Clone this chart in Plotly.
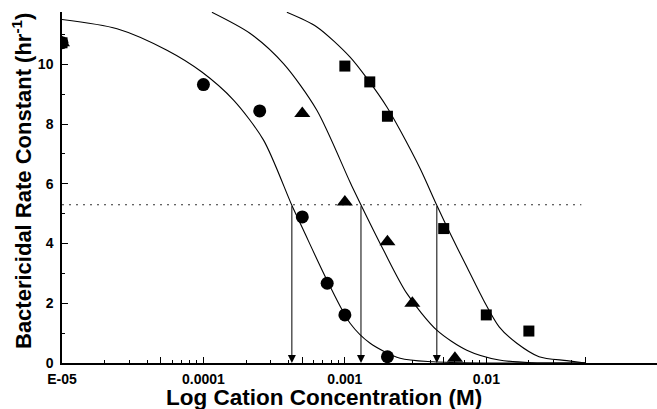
import math
import plotly.graph_objects as go

# ---- data ----
circle_conc = [1e-5, 1e-4, 2.5e-4, 5e-4, 7.5e-4, 1e-3, 2e-3]
circle_rate = [10.72, 9.32, 8.44, 4.89, 2.67, 1.61, 0.21]

triangle_conc = [1e-5, 5e-4, 1e-3, 2e-3, 3e-3, 6e-3]
triangle_rate = [10.72, 8.35, 5.39, 4.06, 2.0, 0.16]

square_conc = [1e-5, 1e-3, 1.5e-3, 2e-3, 5e-3, 1e-2, 2e-2]
square_rate = [10.72, 9.94, 9.41, 8.26, 4.50, 1.61, 1.07]

# fitted curves
curve1_conc = [1e-5, 2.45e-5, 5.52e-5, 9.75e-5, 1.633e-4, 2.661e-4, 4.217e-4, 5.09e-4,
               7.46e-4, 1.089e-3, 1.51e-3, 2.46e-3, 4.207e-3, 1e-2, 5.01e-2]
curve1_rate = [11.50, 11.19, 10.47, 9.74, 8.80, 7.46, 5.28, 4.45,
               2.78, 1.33, 0.66, 0.16, 0.04, 0.0, 0.0]

curve2_conc = [1.148e-4, 2.143e-4, 3.681e-4, 6.339e-4, 1.089e-3, 1.303e-3, 1.875e-3,
               2.742e-3, 4.467e-3, 7.278e-3, 1.233e-2, 2.109e-2, 5.01e-2]
curve2_rate = [11.74, 11.03, 10.02, 8.46, 6.05, 5.28, 3.78,
               2.33, 1.10, 0.43, 0.10, 0.01, 0.0]

curve3_conc = [3.89e-4, 6.339e-4, 1.089e-3, 1.469e-3, 1.982e-3, 2.46e-3, 3.404e-3,
               4.467e-3, 5.546e-3, 7.278e-3, 9.55e-3, 1.233e-2, 1.644e-2, 2.36e-2,
               3.707e-2, 5.01e-2]
curve3_rate = [11.74, 11.25, 10.24, 9.46, 8.57, 7.79, 6.51,
               5.28, 4.34, 3.22, 2.11, 1.21, 0.66, 0.21, 0.08, 0.0]

half_rate = 5.3
half_line_conc = [1e-5, 4.7e-2]
ec50_conc = [4.22e-4, 1.30e-3, 4.47e-3]

x_tick_vals = [1e-5, 5e-5, 1e-4, 5e-4, 1e-3, 5e-3, 1e-2, 5e-2]
x_tick_text = ["E-05", "", "0.0001", "", "0.001", "", "0.01", ""]
x_minor_vals = [m * d for d in [1e-5, 1e-4, 1e-3, 1e-2] for m in [2, 3, 4, 6, 7, 8, 9]
                if m * d < 5e-2]
y_tick_vals = [0, 2, 4, 6, 8, 10]
y_minor_vals = [1, 3, 5, 7, 9, 11]

x_title = "Log Cation Concentration (M)"
y_title = "Bactericidal Rate Constant (hr<sup>-1</sup>)"

FONT = "Liberation Sans, Arial, sans-serif"

fig = go.Figure()

line_style = dict(color="black", width=1.1, shape="spline", smoothing=0.8)
for cx, cy in [(curve1_conc, curve1_rate), (curve2_conc, curve2_rate), (curve3_conc, curve3_rate)]:
    fig.add_trace(go.Scatter(x=cx, y=cy, mode="lines", line=line_style,
                             hoverinfo="skip", showlegend=False))

fig.add_trace(go.Scatter(x=half_line_conc, y=[half_rate] * len(half_line_conc), mode="lines",
                         line=dict(color="#333", width=1.1, dash="2px,5px"),
                         showlegend=False, hoverinfo="skip"))

fig.add_trace(go.Scatter(x=square_conc, y=square_rate, mode="markers",
                         marker=dict(symbol="square", size=11, color="black"),
                         showlegend=False))
fig.add_trace(go.Scatter(x=triangle_conc, y=triangle_rate, mode="markers",
                         marker=dict(symbol="triangle-up", size=14, color="black"),
                         showlegend=False))
fig.add_trace(go.Scatter(x=circle_conc, y=circle_rate, mode="markers",
                         marker=dict(symbol="circle", size=13, color="black"),
                         showlegend=False))

annotations = []
for c in ec50_conc:
    annotations.append(dict(x=math.log10(c), y=0, xref="x", yref="y",
                            ax=math.log10(c), ay=half_rate, axref="x", ayref="y",
                            showarrow=True, arrowhead=2, arrowsize=1.6, arrowwidth=1,
                            arrowcolor="black", standoff=0, text=""))

L, R, T, B = 62, 0, 12, 46
W, H = 657, 409
pw, ph = W - L - R, H - T - B

annotations.append(dict(text=x_title, xref="paper", yref="paper",
                        x=(324 - L) / pw, y=(H - B - 397) / ph, xanchor="center", yanchor="middle",
                        showarrow=False, font=dict(family=FONT, size=22.5, color="black", weight="bold")))
annotations.append(dict(text=y_title, xref="paper", yref="paper", textangle=-90,
                        x=(22 - L) / pw, y=(H - B - 181) / ph, xanchor="center", yanchor="middle",
                        showarrow=False, font=dict(family=FONT, size=22, color="black", weight="bold")))

fig.update_layout(
    width=W, height=H,
    margin=dict(l=L, r=R, t=T, b=B, pad=0, autoexpand=False),
    paper_bgcolor="white", plot_bgcolor="white",
    font=dict(family=FONT, color="black", size=14, weight="bold"),
    annotations=annotations,
    showlegend=False,
)

fig.update_xaxes(type="log", range=[-5, -0.793], showgrid=False, zeroline=False,
                 automargin=False,
                 showline=True, linecolor="black", linewidth=1.5,
                 ticks="inside", ticklen=6, tickwidth=1.2, tickcolor="black",
                 tickvals=x_tick_vals, ticktext=x_tick_text, ticklabelstandoff=2,
                 tickfont=dict(family=FONT, size=14, color="black", weight="bold"),
                 minor=dict(tickvals=x_minor_vals, ticks="inside", ticklen=3,
                            tickwidth=1, tickcolor="black"))
fig.update_yaxes(range=[0, 11.75], showgrid=False, zeroline=False,
                 automargin=False,
                 showline=True, linecolor="black", linewidth=1.5,
                 ticks="inside", ticklen=6, tickwidth=1.2, tickcolor="black",
                 tickvals=y_tick_vals, ticklabelstandoff=4,
                 tickfont=dict(family=FONT, size=14, color="black", weight="bold"),
                 minor=dict(tickvals=y_minor_vals, ticks="inside", ticklen=3,
                            tickwidth=1, tickcolor="black"))

fig.write_html("out.html", config={"displayModeBar": False},
               post_script="document.body.style.margin='0';document.body.style.overflow='hidden';")
